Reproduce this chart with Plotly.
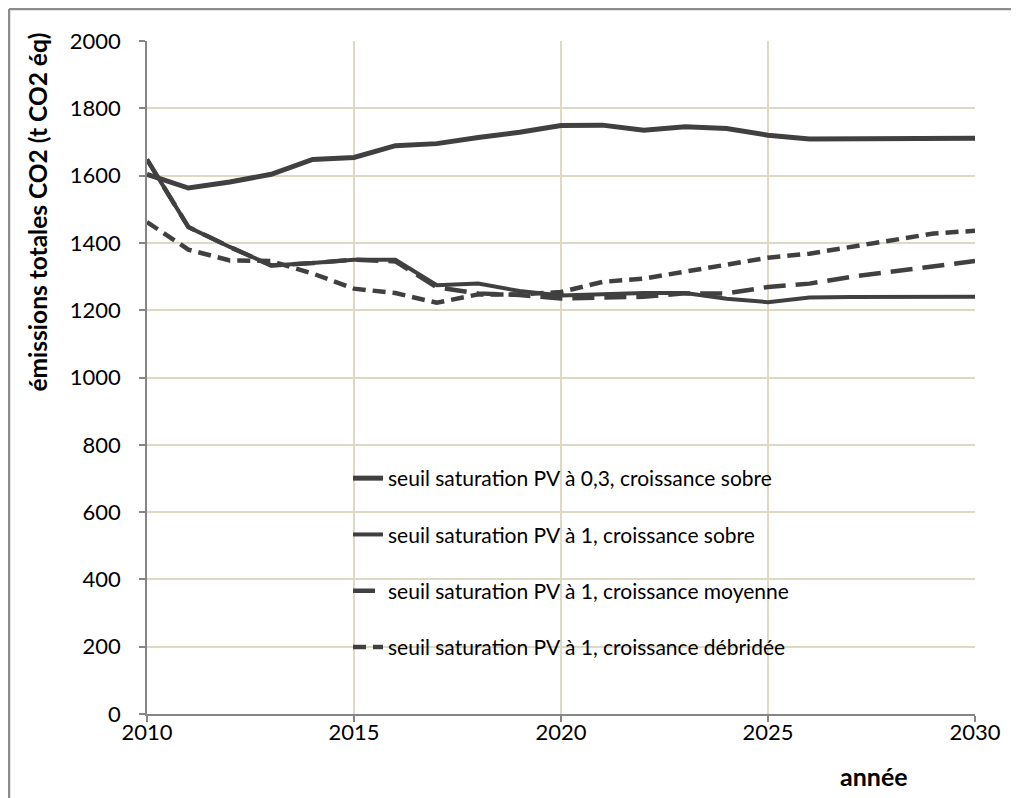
import plotly.graph_objects as go

years = list(range(2010, 2031))

seuil03_sobre = [1604, 1563, 1581, 1604, 1648, 1654, 1689, 1695, 1713, 1729, 1749,
                 1750, 1735, 1745, 1740, 1720, 1709, 1709, 1710, 1711, 1711]
seuil1_sobre = [1648, 1447, 1388, 1333, 1340, 1350, 1350, 1274, 1279, 1257, 1244,
                1247, 1251, 1251, 1234, 1224, 1238, 1239, 1239, 1240, 1240]
seuil1_moyenne = [1648, 1447, 1388, 1333, 1340, 1350, 1345, 1268, 1250, 1245, 1235,
                  1237, 1240, 1250, 1250, 1269, 1279, 1299, 1314, 1331, 1346]
seuil1_debridee = [1462, 1380, 1348, 1346, 1309, 1264, 1251, 1222, 1247, 1247, 1254,
                   1284, 1294, 1314, 1334, 1356, 1368, 1388, 1408, 1428, 1436]

names = [
    "seuil saturation PV à 0,3, croissance sobre",
    "seuil saturation PV à 1, croissance sobre",
    "seuil saturation PV à 1, croissance moyenne",
    "seuil saturation PV à 1, croissance débridée",
]
series = [seuil03_sobre, seuil1_sobre, seuil1_moyenne, seuil1_debridee]
widths = [5, 4, 4.5, 4.5]
dashes = ["solid", "solid", "22px,10px", "13px,7px"]

x_ticks = [2010, 2015, 2020, 2025, 2030]
y_ticks = list(range(0, 2001, 200))

LINE = "#404040"
GRID = "#ddd9c3"
AXIS = "#868686"
FONT = "Lato"

fig = go.Figure()
for i, (nm, ys) in enumerate(zip(names, series)):
    fig.add_trace(go.Scatter(
        x=years, y=ys, mode="lines", name=nm, legendgroup=f"g{i}",
        line=dict(color=LINE, width=widths[i], dash=dashes[i]),
    ))

# page offset due to default body margin
O = 8
PW, PH = 1019, 798
PL, PR, PT, PB = 147, 44, 41, 84   # plot area in page pixels
W, H = PW - O, PH - O
L, T = PL - O, PT - O
R, B = PR, PB
pw, ph = PW - PL - PR, PH - PT - PB

def px_x(p):   # page pixel -> paper x
    return (p - PL) / pw

def px_y(p):   # page pixel -> paper y
    return (PH - PB - p) / ph

fig.update_layout(
    width=W, height=H,
    margin=dict(l=L, r=R, t=T, b=B, pad=0),
    paper_bgcolor="white", plot_bgcolor="white",
    font=dict(family=FONT, size=21, color="black"),
    showlegend=True,
    legend=dict(
        x=px_x(348), y=px_y(458), xanchor="left", yanchor="top",
        bgcolor="rgba(0,0,0,0)", font=dict(family=FONT, size=21, color="black"),
        tracegroupgap=26, itemwidth=30,
    ),
    xaxis=dict(
        range=[2010, 2030], tickvals=x_ticks, ticktext=[str(v) for v in x_ticks],
        showgrid=True, gridcolor=GRID, gridwidth=1.5,
        showline=True, linecolor=AXIS, linewidth=1.5,
        ticks="outside", ticklen=6, tickcolor=AXIS, tickwidth=1.5,
        ticklabelstandoff=-8,
        zeroline=False, tickfont=dict(family=FONT, size=22, color="black"),
    ),
    yaxis=dict(
        range=[0, 2000], tickvals=y_ticks,
        showgrid=True, gridcolor=GRID, gridwidth=1.5,
        showline=True, linecolor=AXIS, linewidth=1.5,
        ticks="outside", ticklen=6, tickcolor=AXIS, tickwidth=1.5,
        ticklabelstandoff=14,
        zeroline=False, tickfont=dict(family=FONT, size=22, color="black"),
    ),
    annotations=[
        dict(text="<b>émissions totales CO2 (t CO2 éq)</b>", textangle=-90,
             xref="paper", yref="paper", x=px_x(37), y=px_y(31),
             xanchor="center", yanchor="top", showarrow=False,
             font=dict(family=FONT, size=24.5, color="black")),
        dict(text="<b>année</b>", xref="paper", yref="paper",
             x=px_x(874), y=px_y(776), xanchor="center", yanchor="middle",
             showarrow=False, font=dict(family=FONT, size=25, color="black")),
    ],
    shapes=[
        dict(type="line", xref="paper", yref="paper",
             x0=px_x(9), x1=px_x(9), y0=px_y(9), y1=px_y(800),
             line=dict(color="#8c8c8c", width=2.5)),
        dict(type="line", xref="paper", yref="paper",
             x0=px_x(9), x1=px_x(1020), y0=px_y(9), y1=px_y(9),
             line=dict(color="#8c8c8c", width=2.5)),
    ],
)

fig.write_html("out.html")
